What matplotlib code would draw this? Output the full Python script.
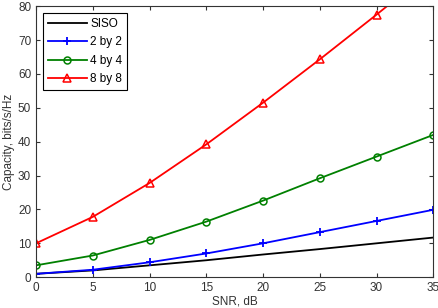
import matplotlib
matplotlib.use("Agg")
import matplotlib.pyplot as plt

plt.rcParams['font.family'] = ['Liberation Sans', 'DejaVu Sans']

# data
snr = [0, 5, 10, 15, 20, 25, 30, 35]
siso = [1.0, 2.0, 3.5, 5.0, 6.7, 8.3, 10.0, 11.7]
mimo2 = [1.0, 2.2, 4.4, 7.0, 10.0, 13.3, 16.6, 19.9]
mimo4 = [3.5, 6.4, 11.0, 16.4, 22.6, 29.2, 35.6, 42.0]
mimo8 = [10.0, 17.8, 27.8, 39.2, 51.5, 64.3, 77.5, 91.0]

fig = plt.figure(figsize=(4.39, 3.08), dpi=100)
ax = fig.add_axes([0.082, 0.10, 0.905, 0.88])

ax.plot(snr, siso, color='black', lw=1.3, label='SISO')
ax.plot(snr, mimo2, color='blue', lw=1.3, marker='+', ms=6, mew=1.3, label='2 by 2')
ax.plot(snr, mimo4, color='green', lw=1.3, marker='o', ms=5, mfc='none', mew=1.1, label='4 by 4')
ax.plot(snr, mimo8, color='red', lw=1.3, marker='^', ms=6, mfc='none', mew=1.1, label='8 by 8')

ax.set_xlim(0, 35)
ax.set_ylim(0, 80)
ax.set_xticks(range(0, 36, 5))
ax.set_yticks(range(0, 81, 10))
ax.tick_params(direction='in', top=True, right=True, labelsize=8.5, colors='#333333', length=3)
for s in ax.spines.values():
    s.set_color('#333333')
ax.set_xlabel('SNR, dB', fontsize=8.5, color='#333333', labelpad=1)
ax.set_ylabel('Capacity, bits/s/Hz', fontsize=8.5, color='#333333', labelpad=2)

leg = ax.legend(loc='upper left', fontsize=8.5, fancybox=False, framealpha=1,
                edgecolor='black', borderpad=0.4, handlelength=3.3, labelspacing=0.55,
                handletextpad=0.3, bbox_to_anchor=(0.0, 1.0), borderaxespad=0.6)
leg.get_frame().set_linewidth(0.8)

fig.savefig('out.png', dpi=100)
